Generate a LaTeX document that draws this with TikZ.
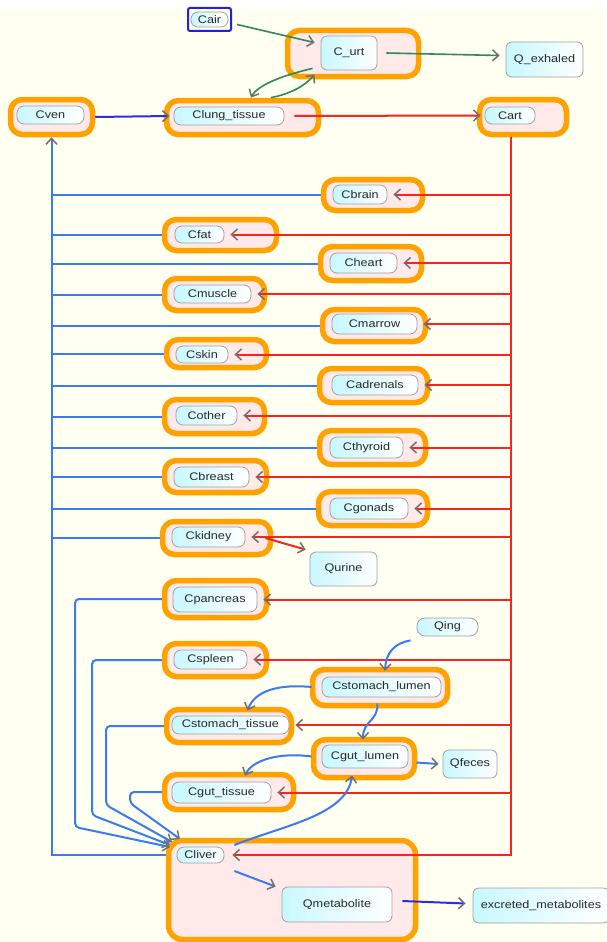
\documentclass[tikz,border=0pt]{standalone}
\usepackage{fontspec}
\setmainfont{Liberation Sans}[FakeStretch=1.15]
\usetikzlibrary{arrows.meta}
\definecolor{bgC}{HTML}{FFFFF2}
\definecolor{orC}{HTML}{FFA200}
\definecolor{pkC}{HTML}{FFE9E9}
\definecolor{cyC}{HTML}{C8F8FF}
\definecolor{grC}{HTML}{A0A0A0}
\definecolor{txC}{HTML}{2A2A2A}
\definecolor{blC}{HTML}{3B7BF0}
\definecolor{dbC}{HTML}{2B2BE8}
\definecolor{rdC}{HTML}{FF2020}
\definecolor{gnC}{HTML}{2E8B57}
\definecolor{arC}{HTML}{707070}
\definecolor{cairC}{HTML}{2020DD}
\begin{document}
\begin{tikzpicture}[x=1pt,y=-1pt,
  >={Straight Barb[color=arC,length=6pt,width=11pt,line width=1.5pt]},
  comp/.style={draw=orC, line width=5.5pt, fill=pkC, rounded corners=12pt, inner sep=0pt},
  var/.style={draw=grC, line width=0.8pt, left color=cyC, right color=white, rounded corners=7pt, inner sep=0pt, text=txC, font=\fontsize{11}{13}\selectfont},
  qbox/.style={var, rounded corners=6pt},
  blueline/.style={draw=blC, line width=2pt},
  dblueline/.style={draw=dbC, line width=2pt},
  redline/.style={draw=rdC, line width=2pt},
  greenline/.style={draw=gnC, line width=1.6pt}]
\fill[white] (0,0) rectangle (606,942);
\fill[bgC] (0,8) rectangle (606,942);
\useasboundingbox (0,0) rectangle (606,942);

\coordinate (lbus) at (51.5,0);
\coordinate (rbus) at (511,0);

% containers
\node[comp, minimum width=131pt, minimum height=46pt] (urtbox) at (353,53.5) {};
\node[comp, minimum width=82pt, minimum height=35pt] (venbox) at (51.5,117) {};
\node[comp, minimum width=152pt, minimum height=34pt] (lungbox) at (242.5,117.5) {};
\node[comp, minimum width=87pt, minimum height=35pt] (artbox) at (523,117) {};
\node[comp, minimum width=99pt, minimum height=31pt] (brainbox) at (373,195) {};
\node[comp, minimum width=112pt, minimum height=31pt] (fatbox) at (220.5,235) {};
\node[comp, minimum width=101pt, minimum height=34pt] (heartbox) at (371,263.5) {};
\node[comp, minimum width=100pt, minimum height=32pt] (musclebox) at (214.5,294.5) {};
\node[comp, minimum width=103pt, minimum height=32pt] (marrowbox) at (374,325.5) {};
\node[comp, minimum width=100pt, minimum height=28pt] (skinbox) at (216.5,353.5) {};
\node[comp, minimum width=108pt, minimum height=34pt] (adrenalsbox) at (373.5,385.5) {};
\node[comp, minimum width=100pt, minimum height=34pt] (otherbox) at (214.5,416.5) {};
\node[comp, minimum width=106pt, minimum height=34pt] (thyroidbox) at (372.5,447.5) {};
\node[comp, minimum width=102pt, minimum height=32pt] (breastbox) at (215.5,476.5) {};
\node[comp, minimum width=109pt, minimum height=34pt] (gonadsbox) at (373,508.5) {};
\node[comp, minimum width=108pt, minimum height=33pt] (kidneybox) at (216.5,538) {};
\node[comp, minimum width=102pt, minimum height=37pt] (pancbox) at (215.5,599) {};
\node[comp, minimum width=102pt, minimum height=33pt] (spleenbox) at (215.5,660) {};
\node[comp, minimum width=135pt, minimum height=36pt] (slumenbox) at (380,687.5) {};
\node[comp, minimum width=125pt, minimum height=33pt] (stissuebox) at (229,726) {};
\node[comp, minimum width=101pt, minimum height=38pt] (glumenbox) at (364,758.5) {};
\node[comp, minimum width=129pt, minimum height=35pt] (gtissuebox) at (229,792) {};
\node[comp, minimum width=247pt, minimum height=99pt, rounded corners=14pt] (liverbox) at (292,890) {};

% inner variables
\node[draw=cairC, line width=2pt, rounded corners=2pt, minimum width=43pt, minimum height=23pt, inner sep=0pt] (cairbox) at (209.5,19.5) {};
\node[var, minimum width=37pt, minimum height=15pt] (cair) at (209.5,19.5) {Cair};
\node[qbox, minimum width=56pt, minimum height=34pt] (urt) at (349,53) {C\_urt};
\node[qbox, minimum width=77pt, minimum height=35pt] (qex) at (544.5,59.5) {Q\_exhaled};
\node[var, minimum width=67pt, minimum height=18pt] (ven) at (50.5,115) {Cven};
\node[var, minimum width=110pt, minimum height=18pt] (lung) at (229,116) {Clung\_tissue};
\node[var, minimum width=50pt, minimum height=17pt] (art) at (510,115.5) {Cart};
\node[var, minimum width=54pt, minimum height=19pt] (brain) at (360,194.5) {Cbrain};
\node[var, minimum width=49pt, minimum height=17pt] (fat) at (199.5,234.5) {Cfat};
\node[var, minimum width=67pt, minimum height=20pt] (heart) at (363.5,263) {Cheart};
\node[var, minimum width=77pt, minimum height=18pt] (muscle) at (212.5,294) {Cmuscle};
\node[var, minimum width=85pt, minimum height=20pt] (marrow) at (374.5,324) {Cmarrow};
\node[var, minimum width=52pt, minimum height=17pt] (skin) at (202,354.5) {Cskin};
\node[var, minimum width=86pt, minimum height=20pt] (adrenals) at (375,385) {Cadrenals};
\node[var, minimum width=61pt, minimum height=19pt] (other) at (206.5,415.5) {Cother};
\node[var, minimum width=73pt, minimum height=21pt] (thyroid) at (366.5,447.5) {Cthyroid};
\node[var, minimum width=75pt, minimum height=20pt] (breast) at (211.5,477) {Cbreast};
\node[var, minimum width=78pt, minimum height=21pt] (gonads) at (369,508.5) {Cgonads};
\node[var, minimum width=73pt, minimum height=20pt] (kidney) at (208.5,537) {Ckidney};
\node[qbox, minimum width=67pt, minimum height=34pt] (qurine) at (343.5,569) {Qurine};
\node[var, minimum width=84pt, minimum height=25pt] (panc) at (215,599.5) {Cpancreas};
\node[var, minimum width=61pt, minimum height=18pt, rounded corners=8pt] (qing) at (447.5,627) {Qing};
\node[var, minimum width=73pt, minimum height=19pt] (spleen) at (210.5,659.5) {Cspleen};
\node[var, minimum width=119pt, minimum height=20pt] (slumen) at (381.5,687) {Cstomach\_lumen};
\node[var, minimum width=117pt, minimum height=18pt] (stissue) at (230.5,725) {Cstomach\_tissue};
\node[var, minimum width=86pt, minimum height=23pt] (glumen) at (365,756.5) {Cgut\_lumen};
\node[qbox, minimum width=54pt, minimum height=28pt] (qfeces) at (470,764) {Qfeces};
\node[var, minimum width=99pt, minimum height=21pt] (gtissue) at (221.5,792.5) {Cgut\_tissue};
\node[var, minimum width=47pt, minimum height=16pt] (liver) at (200.5,855) {Cliver};
\node[qbox, minimum width=110pt, minimum height=35pt] (qmet) at (337,904.5) {Qmetabolite};
\node[qbox, minimum width=136pt, minimum height=35pt] (excr) at (541,905.5) {excreted\_metabolites};

% venous return (blue, to left bus)
\draw[blueline,->] (liverbox.west |- liver) -- (liver -| lbus) -- (venbox.south);
\foreach \n in {brain,fat,heart,muscle,marrow,skin,adrenals,other,thyroid,breast,gonads,kidney}
  \draw[blueline] (\n box.west) -- (\n box.west -| lbus);

% inflow to liver
\coordinate (lv1) at (170,847);
\coordinate (lv2) at (170,845);
\coordinate (lv3) at (172,842);
\coordinate (lv4) at (180,839);
\draw[blueline,->,rounded corners=4pt] (pancbox.west) -| (75,827) -- (lv1);
\draw[blueline,->,rounded corners=4pt] (spleenbox.west) -| (92,815) -- (lv2);
\draw[blueline,->,rounded corners=4pt] (stissuebox.west) -| (106,805) -- (lv3);
\draw[blueline,->,rounded corners=4pt] (gtissuebox.west) -| (130,803) -- (lv4);

% arterial supply (red, from right bus)
\draw[redline,->] (artbox.south -| rbus) -- (liver -| rbus) -- ([xshift=8pt]liver.east);
\foreach \n in {brain,fat,heart,muscle,marrow,skin,adrenals,other,thyroid,breast,gonads,kidney,panc,spleen,stissue,gtissue}
  \draw[redline,->] (\n.east -| rbus) -- ([xshift=6pt]\n.east);

% lungs and airways
\draw[dblueline,->] (venbox.east) -- ([xshift=-4pt]lung.west);
\draw[redline,->] ([xshift=10pt]lung.east) -- ([xshift=-4pt]art.west);
\draw[greenline,->] ([shift={(5pt,-5pt)}]cairbox.east) -- ([shift={(-6pt,-7pt)}]urt.north west);
\draw[greenline,->] ([xshift=9pt]urt.east) -- ([shift={(-6pt,4pt)}]qex.west);
\draw[greenline,->] ([shift={(-8pt,2pt)}]urt.south west) .. controls (288,74) and (258,84) .. ([shift={(22pt,9pt)}]lung.north);
\draw[greenline,->] ([shift={(42pt,9pt)}]lung.north) .. controls (290,94) and (305,86) .. ([shift={(-6pt,-4pt)}]urt.south west);

% kidney to urine
\draw[redline,->] ([shift={(20pt,-1pt)}]kidney.east) -- ([shift={(-4pt,2pt)}]qurine.north west);

% gastro-intestinal
\draw[blueline,->] ([shift={(-6pt,-4pt)}]qing.south west) .. controls (395,643) and (386,652) .. ([shift={(5pt,-4pt)}]slumenbox.north);
\draw[blueline,->] ([xshift=-10pt]slumen.west) .. controls (280,684) and (255,690) .. ([shift={(17pt,5pt)}]stissue.north);
\draw[blueline,->] ([shift={(-4pt,-6pt)}]slumen.south) .. controls (378,722) and (363,720) .. ([shift={(-2pt,5pt)}]glumen.north);
\draw[blueline,->] ([xshift=-10pt]glumen.west) .. controls (280,752) and (252,760) .. ([shift={(23.5pt,6pt)}]gtissue.north);
\draw[blueline,->] ([shift={(8pt,-6pt)}]glumen.east) -- ([xshift=-4pt]qfeces.west);
\draw[blueline,->] ([shift={(10pt,10pt)}]liver.east) .. controls (285,825) and (347,815) .. ([shift={(-13pt,-7pt)}]glumen.south);
\draw[blueline,->] ([shift={(10pt,-16pt)}]liver.east) -- ([shift={(-6pt,0pt)}]qmet.north west);
\draw[dblueline,->] ([shift={(10pt,3.5pt)}]qmet.east) -- ([shift={(-7pt,2pt)}]excr.west);
\end{tikzpicture}
\end{document}
